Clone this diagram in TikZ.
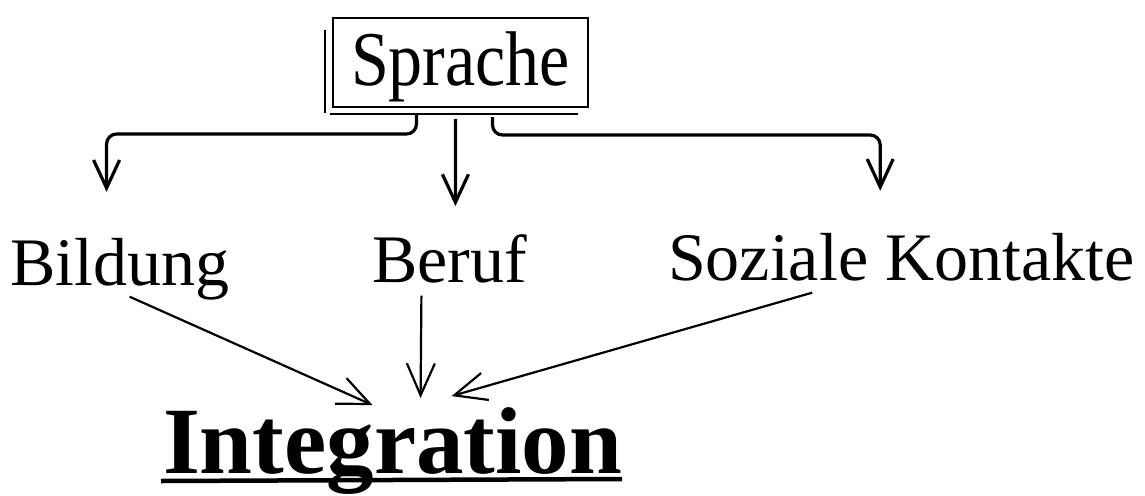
\documentclass[tikz,border=0pt]{standalone}
\usepackage{fontspec}
\setmainfont{Liberation Serif}
\usetikzlibrary{arrows.meta}

\begin{document}
\begin{tikzpicture}[
    x=1pt, y=-1pt,
    every node/.style={inner sep=0, outer sep=0},
    word/.style={
      anchor=base west,
      font=\fontsize{68}{80}\selectfont,
    },
    connector/.style={
      line width=3.2pt,
      draw=black,
      -{Straight Barb[length=28pt, width=26pt]},
    },
    thin connector/.style={
      line width=2.2pt,
      draw=black,
      -{Straight Barb[length=32pt, width=28pt]},
    },
  ]
  \useasboundingbox (0,0) rectangle (1145,495);

  \node[
    draw, line width=2.8pt,
    minimum width=255pt,
    minimum height=89pt,
    text height=57pt,
    text depth=12pt,
    inner ysep=10pt,
    font=\fontsize{68}{80}\selectfont,
  ] (Sprache) at (460.5,62.5) {\scalebox{1}[1.14]{Sprache}};

  % second line left and below the box
  \draw[line width=2.8pt] ([xshift=-8pt, yshift=-12pt]Sprache.north west)
    -- ([xshift=-8pt, yshift=-6pt]Sprache.south west);
  \draw[line width=2.8pt] ([xshift=-3pt, yshift=-7pt]Sprache.south west)
    -- ([xshift=-10pt, yshift=-7pt]Sprache.south east);

  \foreach \name/\x/\y/\txt in {
    Bildung/10/285/{Bildung},
    Beruf/372/282/{Beruf},
    Soziale/668/280/{Soziale Kontakte}
  }{
    \node[word] (\name) at (\x,\y) {\txt};
  }

  \node[
    anchor=base west,
    font=\fontsize{95}{110}\selectfont\bfseries,
  ] (Integration) at (163,473) {Integration};
  \draw[line width=4.5pt] ([xshift=-2pt, yshift=-8pt]Integration.base west)
    -- ([yshift=-6pt]Integration.base east);

  % from Sprache
  \draw[connector, rounded corners=10pt] ([xshift=-44pt, yshift=-8pt]Sprache.south)
    -- ++(0,19) -| ([xshift=-13pt, yshift=46pt]Bildung.north);
  \draw[connector] ([xshift=-5pt, yshift=-12pt]Sprache.south)
    -- ([xshift=6pt, yshift=28pt]Beruf.north);
  \draw[connector, rounded corners=10pt] ([xshift=32pt, yshift=-10pt]Sprache.south)
    -- ++(0,18) -| ([xshift=-21pt, yshift=42pt]Soziale.north);

  % to Integration
  \draw[thin connector] ([xshift=10pt, yshift=3pt]Bildung.south)
    -- ([xshift=-20pt, yshift=2pt]Integration.north);
  \draw[thin connector] ([xshift=-28pt, yshift=-13pt]Beruf.south)
    -- ([xshift=28pt, yshift=9pt]Integration.north);
  \draw[thin connector] ([xshift=-89pt, yshift=-12pt]Soziale.south)
    -- ([xshift=59pt, yshift=11pt]Integration.north);
\end{tikzpicture}
\end{document}
